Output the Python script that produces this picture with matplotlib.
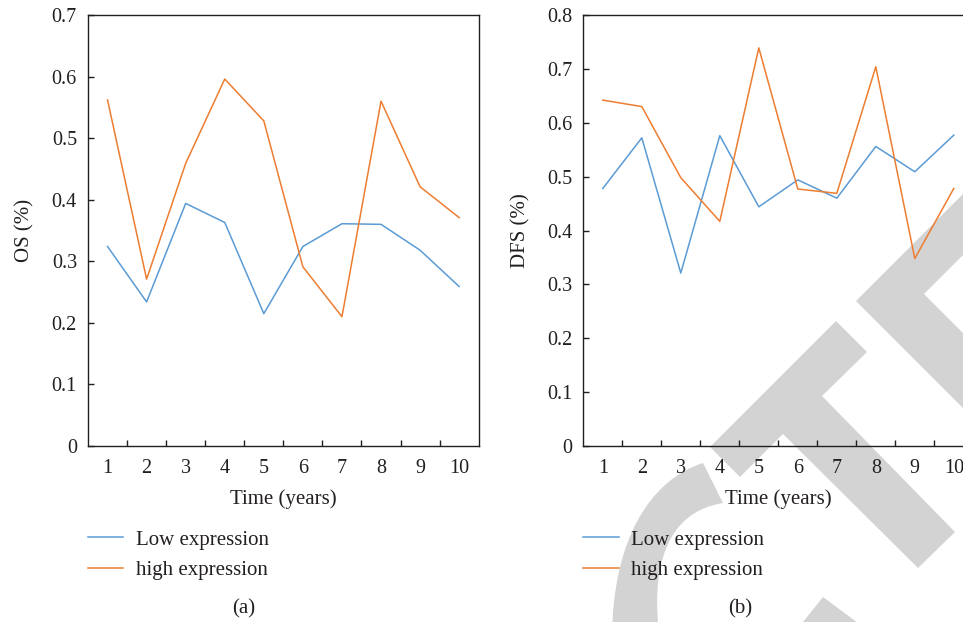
"""Two-panel OS / DFS line chart (low vs high expression) with the grey watermark."""

import matplotlib.pyplot as plt
import numpy as np
from matplotlib.lines import Line2D
from matplotlib.patches import PathPatch, Polygon
from matplotlib.path import Path

years = list(range(1, 11))

os_low = [0.324, 0.234, 0.394, 0.363, 0.215, 0.324, 0.361, 0.360, 0.318, 0.259]
os_high = [0.562, 0.271, 0.459, 0.596, 0.528, 0.291, 0.210, 0.560, 0.421, 0.371]

dfs_low = [0.478, 0.572, 0.321, 0.576, 0.444, 0.494, 0.460, 0.556, 0.509, 0.577]
dfs_high = [0.642, 0.630, 0.498, 0.417, 0.739, 0.477, 0.469, 0.704, 0.348, 0.478]

series_labels = ["Low expression", "high expression"]
blue = "#5b9bd5"
orange = "#ed7d31"
ink = "#231f20"
grey = "#d3d3d3"

W, H = 963, 622

plt.rcParams["font.family"] = ["Liberation Serif", "DejaVu Serif"]


def px(pts):
    # pixel coords (y down) -> figure fraction
    return [(x / W, 1 - y / H) for x, y in pts]


def add_watermark(fig):
    # pieces of the rotated "RETRACTED" stamp that fall inside the picture
    shapes = [
        # T
        [(710, 447), (836, 321), (867, 352), (822, 396), (955, 532),
         (918, 568), (783, 434), (740, 477)],
        # E
        [(856, 301), (1005, 152), (1000, 218), (924, 294), (1000, 370),
         (1000, 445)],
        # C (lower terminal)
        [(795, 632), (823, 597), (870, 632)],
    ]
    for pts in shapes:
        fig.add_artist(Polygon(px(pts), closed=True, transform=fig.transFigure,
                               facecolor=grey, edgecolor="none", zorder=-1))

    # C (upper bowl), outer and inner edges as cubic curves
    c_pts = [(612, 640), (612, 540), (650, 480), (703, 463),
             (723, 503),
             (665, 512), (650, 570), (660, 640),
             (612, 640)]
    c_codes = [Path.MOVETO, Path.CURVE4, Path.CURVE4, Path.CURVE4,
               Path.LINETO,
               Path.CURVE4, Path.CURVE4, Path.CURVE4,
               Path.CLOSEPOLY]
    fig.add_artist(PathPatch(Path(px(c_pts), c_codes), transform=fig.transFigure,
                             facecolor=grey, edgecolor="none", zorder=-1))


def draw_panel(fig, rect, low, high, ymax, ylabel, tag, tag_x, legend_x):
    ax = fig.add_axes(rect)
    ax.set_facecolor("none")
    ax.plot(years, low, color=blue, lw=1.1)
    ax.plot(years, high, color=orange, lw=1.1)

    ax.set_xlim(0.5, 10.5)
    ax.set_ylim(0, ymax)
    ax.set_xticks(years)
    ax.set_xticks(np.arange(1.5, 10, 1), minor=True)
    yt = np.round(np.arange(0, ymax + 0.001, 0.1), 1)
    ax.set_yticks(yt, [f"{v:g}" for v in yt])

    ax.tick_params(axis="x", which="major", length=0, pad=9.5, labelsize=14.5,
                   labelcolor=ink)
    ax.tick_params(axis="x", which="minor", direction="in", length=4.5,
                   width=1, color=ink)
    ax.tick_params(axis="y", direction="in", length=4.5, width=1, color=ink,
                   pad=8, labelsize=14.5, labelcolor=ink)
    for s in ax.spines.values():
        s.set_color(ink)
        s.set_linewidth(1.0)

    ax.set_xlabel("Time (years)", fontsize=15, color=ink, labelpad=8)
    ax.set_ylabel(ylabel, fontsize=15, color=ink, labelpad=12)

    handles = [Line2D([], [], color=blue, lw=1.1), Line2D([], [], color=orange, lw=1.1)]
    fig.legend(handles, series_labels, loc="upper left",
               bbox_to_anchor=(legend_x / W, 1 - 530 / H),
               bbox_transform=fig.transFigure, frameon=False, fontsize=15,
               borderpad=0, borderaxespad=0, handlelength=1.7,
               handletextpad=0.6, labelspacing=0.53, labelcolor=ink)
    fig.text(tag_x / W, 1 - 609 / H, tag, ha="center", va="center",
             fontsize=15, color=ink)
    return ax


fig = plt.figure(figsize=(W / 100, H / 100), dpi=100)
add_watermark(fig)

ax_h = 431 / H
ax_b = 1 - 446 / H
draw_panel(fig, [88 / W, ax_b, 390.7 / W, ax_h], os_low, os_high, 0.7,
           "OS (%)", "(a)", 244, 88)
draw_panel(fig, [583.3 / W, ax_b, 390 / W, ax_h], dfs_low, dfs_high, 0.8,
           "DFS (%)", "(b)", 740, 583.3)

fig.savefig("out.png", dpi=100)
